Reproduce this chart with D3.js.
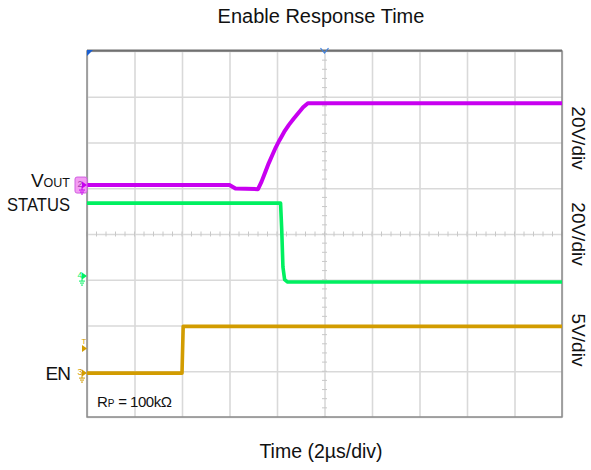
<!DOCTYPE html>
<html>
<head>
<meta charset="utf-8">
<script src="https://cdn.jsdelivr.net/npm/d3@7"></script>
<style>
  html, body { margin: 0; padding: 0; background: #fff; }
  svg { display: block; font-family: "Liberation Sans", Arial, sans-serif; }
</style>
</head>
<body>
<svg id="chart" width="591" height="470"></svg>
<script>
// ---- data ----
const title = "Enable Response Time";
const xLabel = "Time (2\u00b5s/div)";
const xDivTicks = [0, 2, 4, 6, 8, 10, 12, 14, 16, 18, 20];      // µs, 2 µs/div
const yDivTicks = [-4, -3, -2, -1, 0, 1, 2, 3, 4];               // divisions
const scaleLabels = ["20V/div", "20V/div", "5V/div"];

// VOUT (V) — 20 V/div
const voutTime = [0, 6.0, 6.25, 7.2, 7.35, 7.5, 7.65, 7.8, 7.95, 8.1, 8.3, 8.5, 8.7, 8.9, 9.1, 9.3, 20];
const voutVolt = [0, 0, -1.5, -1.8, 1.5, 5.5, 9.5, 13, 16.5, 19.5, 23.2, 26.3, 29, 31.5, 34, 35.8, 35.8];
// STATUS (V) — 20 V/div
const statusTime = [0, 8.15, 8.2, 8.25, 8.32, 8.45, 20];
const statusVolt = [31.9, 31.9, 20, 4, -1.5, -2.6, -2.6];
// EN (V) — 5 V/div
const enTime = [0, 4.0, 4.05, 20];
const enVolt = [0, 0, 5.1, 5.1];

// channel settings: volts per div and ground offset (div)
const chVoltsPerDiv = [20, 20, 5];
const chOffsetDiv = [1.07, -0.92, -3.04];
const chColors = ["#c800f0", "#00f060", "#d29c00"];

// ---- layout ----
const svg = d3.select("#chart");
const L = 87, R = 562, T = 51, B = 417;
const x = d3.scaleLinear().domain([0, 20]).range([L, R]);
const y = d3.scaleLinear().domain([-4, 4]).range([B, T]);

// title
svg.append("text").attr("x", 321).attr("y", 23).attr("text-anchor", "middle")
  .attr("font-size", 20).attr("fill", "#111").text(title);
// x label
svg.append("text").attr("x", 321).attr("y", 458).attr("text-anchor", "middle")
  .attr("font-size", 19.5).attr("fill", "#111").text(xLabel);

// grid via axes
const grid = svg.append("g");
grid.append("g").attr("transform", `translate(0,${B})`)
  .call(d3.axisBottom(x).tickValues(xDivTicks).tickSize(-(B - T)).tickFormat(""))
  .call(g => g.select(".domain").remove())
  .call(g => g.selectAll("line").attr("stroke", "#d9d9d9").attr("stroke-width", 1.6));
grid.append("g").attr("transform", `translate(${L},0)`)
  .call(d3.axisLeft(y).tickValues(yDivTicks).tickSize(-(R - L)).tickFormat(""))
  .call(g => g.select(".domain").remove())
  .call(g => g.selectAll("line").attr("stroke", "#d9d9d9").attr("stroke-width", 1.6));

// minor ticks on centre lines
const minorX = d3.range(0, 20.001, 0.4);
const minorY = d3.range(-4, 4.001, 0.2);
svg.append("g").selectAll("line").data(minorX).join("line")
  .attr("x1", d => x(d)).attr("x2", d => x(d))
  .attr("y1", y(0) - 2.5).attr("y2", y(0) + 2.5)
  .attr("stroke", "#c8c8c8").attr("stroke-width", 1);
svg.append("g").selectAll("line").data(minorY).join("line")
  .attr("x1", x(10) - 2.5).attr("x2", x(10) + 2.5)
  .attr("y1", d => y(d)).attr("y2", d => y(d))
  .attr("stroke", "#c8c8c8").attr("stroke-width", 1);

// frame
svg.append("rect").attr("x", L).attr("y", T).attr("width", R - L).attr("height", B - T)
  .attr("fill", "none").attr("stroke", "#8a8a8a").attr("stroke-width", 1.5);
svg.append("line").attr("x1", L).attr("x2", R).attr("y1", T - 0.5).attr("y2", T - 0.5)
  .attr("stroke", "#707070").attr("stroke-width", 2);

// traces
function toDiv(v, ch) { return chOffsetDiv[ch] + v / chVoltsPerDiv[ch]; }
const series = [
  { t: enTime, v: enVolt, ch: 2, w: 3.6 },
  { t: statusTime, v: statusVolt, ch: 1, w: 3.6 },
  { t: voutTime, v: voutVolt, ch: 0, w: 4.0 }
];
const line = d3.line().x(d => x(d[0])).y(d => y(d[1]));
series.forEach(s => {
  const pts = s.t.map((t, i) => [t, toDiv(s.v[i], s.ch)]);
  svg.append("path").attr("d", line(pts)).attr("fill", "none")
    .attr("stroke", chColors[s.ch]).attr("stroke-width", s.w)
    .attr("stroke-linejoin", "round");
});

// ground markers
function groundSym(g, cx, cy, col) {
  g.append("line").attr("x1", cx).attr("x2", cx).attr("y1", cy).attr("y2", cy + 4).attr("stroke", col).attr("stroke-width", 1);
  g.append("line").attr("x1", cx - 3).attr("x2", cx + 3).attr("y1", cy + 4).attr("y2", cy + 4).attr("stroke", col).attr("stroke-width", 1);
  g.append("line").attr("x1", cx - 2).attr("x2", cx + 2).attr("y1", cy + 6).attr("y2", cy + 6).attr("stroke", col).attr("stroke-width", 1);
  g.append("line").attr("x1", cx - 1).attr("x2", cx + 1).attr("y1", cy + 8).attr("y2", cy + 8).attr("stroke", col).attr("stroke-width", 1);
}
const chNums = ["2", "4", "3"];
chOffsetDiv.forEach((off, ch) => {
  const cy = y(off);
  const g = svg.append("g");
  const col = chColors[ch];
  if (ch === 0) {
    g.append("rect").attr("x", 75).attr("y", cy - 8).attr("width", 12).attr("height", 16)
      .attr("rx", 2).attr("fill", "#f39cf3").attr("stroke", "#d060e0").attr("stroke-width", 1);
  }
  g.append("text").attr("x", 80).attr("y", cy + 2).attr("text-anchor", "middle")
    .attr("font-size", 9).attr("fill", ch === 0 ? "#a040b0" : col).text(chNums[ch]);
  g.append("path").attr("d", `M82,${cy - 3.5}L87,${cy}L82,${cy + 3.5}Z`).attr("fill", col);
  groundSym(g, 82, cy + 1, col);
});
// trigger level marker
const trigY = y(-2.5);
svg.append("text").attr("x", 84).attr("y", trigY - 4).attr("text-anchor", "middle")
  .attr("font-size", 8).attr("fill", chColors[2]).text("T");
svg.append("path").attr("d", `M82,${trigY - 3.5}L87,${trigY}L82,${trigY + 3.5}Z`).attr("fill", chColors[2]);

// top markers
svg.append("path").attr("d", `M${L},${T - 1}L${L + 6},${T - 1}L${L},${T + 5}Z`).attr("fill", "#1a5fd0");
svg.append("path").attr("d", `M${x(10) - 4},${T - 3}L${x(10)},${T + 2}L${x(10) + 4},${T - 3}`)
  .attr("fill", "none").attr("stroke", "#3a7fe0").attr("stroke-width", 1.2);

// channel labels left
const vt = svg.append("text").attr("x", 70).attr("y", 187).attr("text-anchor", "end").attr("fill", "#111");
vt.append("tspan").attr("font-size", 19).text("V");
vt.append("tspan").attr("font-size", 12.5).text("OUT");
svg.append("text").attr("x", 7).attr("y", 211).attr("font-size", 19).attr("fill", "#111")
  .attr("textLength", 63).attr("lengthAdjust", "spacingAndGlyphs").text("STATUS");
svg.append("text").attr("x", 70).attr("y", 380).attr("text-anchor", "end")
  .attr("font-size", 19).attr("fill", "#111").attr("letter-spacing", -1).text("EN");

// scale labels right (rotated)
const scaleY = [138, 234, 340];
scaleLabels.forEach((s, i) => {
  svg.append("text").attr("transform", `translate(572,${scaleY[i]}) rotate(90)`)
    .attr("text-anchor", "middle").attr("font-size", 19).attr("fill", "#111").text(s);
});

// RP annotation
const rp = svg.append("text").attr("x", 97).attr("y", 407).attr("fill", "#111").attr("font-size", 15);
rp.append("tspan").text("R");
rp.append("tspan").attr("font-size", 10).text("P");
rp.append("tspan").attr("letter-spacing", -0.5).text(" = 100k\u03a9");
</script>
</body>
</html>
